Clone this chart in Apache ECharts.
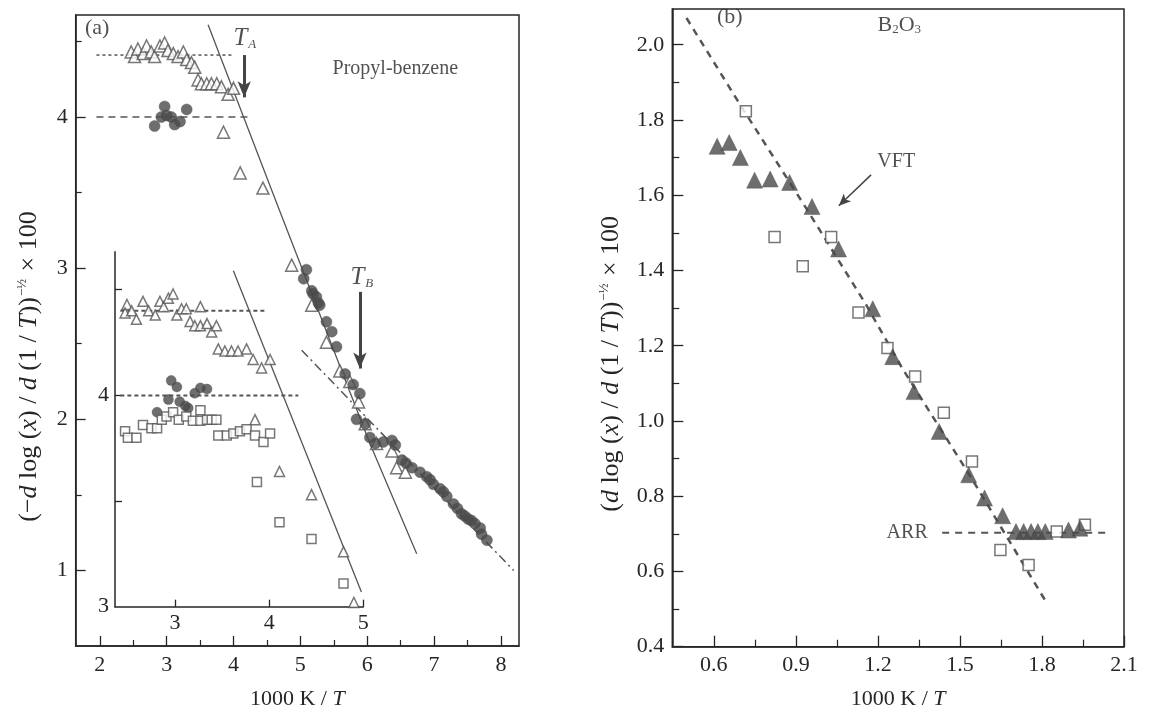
<!DOCTYPE html>
<html><head><meta charset="utf-8">
<script src="https://cdn.jsdelivr.net/npm/echarts@6/dist/echarts.min.js"></script>
<style>html,body{margin:0;padding:0;background:#fff}#c{width:1165px;height:715px}</style>
</head><body><div id="c"></div>
<script>
// ---------- Panel (a): Propyl-benzene, main plot ----------
const aTickX = [2, 3, 4, 5, 6, 7, 8];
const aMinorX = [2.5, 3.5, 4.5, 5.5, 6.5, 7.5];
const aTickY = [1, 2, 3, 4];
const aMinorY = [1.5, 2.5, 3.5, 4.5];

const aTriX = [2.47,2.52,2.57,2.65,2.70,2.77,2.82,2.90,2.97,3.02,3.10,3.17,3.25,3.30,3.37,3.42,3.47,3.52,3.60,3.67,3.75,3.82,3.92,4.00,3.85,4.10,4.44,4.87,5.17,5.39,5.59,5.74,5.87,5.97,6.14,6.37,6.44,6.57];
const aTriY = [4.43,4.40,4.45,4.42,4.47,4.43,4.40,4.47,4.49,4.44,4.42,4.40,4.43,4.38,4.36,4.33,4.245,4.22,4.22,4.22,4.22,4.20,4.15,4.19,3.90,3.63,3.53,3.02,2.755,2.51,2.32,2.25,2.115,1.97,1.84,1.79,1.68,1.65];

const aCircX = [2.82,2.92,2.97,3.00,3.07,3.12,3.20,3.30,5.05,5.09,5.17,5.19,5.24,5.27,5.29,5.39,5.47,5.54,5.67,5.79,5.84,5.89,5.97,6.04,6.12,6.24,6.37,6.42,6.52,6.58,6.67,6.79,6.89,6.94,6.99,7.09,7.14,7.19,7.29,7.35,7.41,7.46,7.51,7.56,7.61,7.69,7.71,7.79];
const aCircY = [3.94,4.00,4.07,4.01,4.00,3.95,3.97,4.05,2.93,2.99,2.85,2.83,2.81,2.77,2.755,2.645,2.58,2.48,2.30,2.23,2.00,2.17,1.97,1.88,1.84,1.85,1.86,1.83,1.73,1.71,1.68,1.65,1.62,1.60,1.57,1.54,1.52,1.49,1.44,1.41,1.375,1.36,1.34,1.33,1.31,1.28,1.24,1.20];

const aSteepX = [3.62, 4.69, 6.04, 6.74];
const aSteepY = [4.61, 3.38, 1.84, 1.11];
const aShallowX = [5.02, 8.19];
const aShallowY = [2.457, 1.00];
const aPlateauHiX = [1.95, 3.97];
const aPlateauHiY = [4.41, 4.41];
const aPlateauLoX = [1.95, 4.27];
const aPlateauLoY = [4.00, 4.00];

// ---------- Panel (a): inset ----------
const inTickX = [3, 4, 5];
const inTickY = [3.5, 4, 4.5];
const inLabelY = [3, 4];

const inTriX = [2.49,2.47,2.54,2.59,2.66,2.72,2.79,2.84,2.88,2.93,2.98,3.02,3.07,3.12,3.16,3.21,3.27,3.27,3.34,3.39,3.44,3.46,3.53,3.60,3.67,3.76,3.83,3.92,4.01,3.85,4.11,4.45,4.79,4.90];
const inTriY = [4.43,4.39,4.40,4.36,4.445,4.40,4.38,4.445,4.42,4.46,4.48,4.38,4.41,4.41,4.35,4.33,4.42,4.33,4.34,4.30,4.33,4.22,4.21,4.21,4.21,4.22,4.17,4.13,4.17,3.885,3.64,3.53,3.26,3.02];

const inCircX = [2.81,2.93,2.96,3.02,3.05,3.11,3.14,3.21,3.27,3.34];
const inCircY = [3.92,3.98,4.07,4.04,3.97,3.95,3.94,4.01,4.035,4.03];

const inSqX = [2.47,2.50,2.59,2.66,2.75,2.81,2.86,2.91,2.98,3.04,3.12,3.19,3.27,3.27,3.34,3.39,3.44,3.46,3.55,3.62,3.69,3.76,3.85,3.94,4.01,3.87,4.11,4.45,4.79];
const inSqY = [3.83,3.80,3.80,3.86,3.845,3.845,3.885,3.90,3.92,3.885,3.90,3.88,3.93,3.88,3.885,3.885,3.885,3.81,3.81,3.82,3.83,3.84,3.81,3.78,3.82,3.59,3.40,3.32,3.11];

const inSteepX = [3.62, 4.98];
const inSteepY = [4.59, 3.07];
const inPlateauHiX = [2.42, 3.97];
const inPlateauHiY = [4.40, 4.40];
const inPlateauLoX = [2.42, 4.31];
const inPlateauLoY = [4.00, 4.00];

// ---------- Panel (b): B2O3 ----------
const bTickX = [0.6, 0.9, 1.2, 1.5, 1.8, 2.1];
const bMinorX = [0.75, 1.05, 1.35, 1.65, 1.95];
const bTickY = [0.4, 0.6, 0.8, 1.0, 1.2, 1.4, 1.6, 1.8, 2.0];
const bMinorY = [0.5, 0.7, 0.9, 1.1, 1.3, 1.5, 1.7, 1.9];

const bTriX = [0.612,0.656,0.697,0.749,0.806,0.877,0.959,1.056,1.181,1.254,1.332,1.424,1.532,1.590,1.656,1.705,1.733,1.760,1.785,1.812,1.897,1.939];
const bTriY = [1.73,1.74,1.70,1.64,1.643,1.634,1.570,1.457,1.298,1.171,1.078,0.972,0.857,0.795,0.748,0.706,0.706,0.706,0.706,0.706,0.710,0.715];

const bSqX = [0.717,0.822,0.925,1.029,1.129,1.235,1.336,1.441,1.544,1.648,1.751,1.854,1.957];
const bSqY = [1.823,1.489,1.411,1.489,1.288,1.194,1.118,1.022,0.892,0.657,0.617,0.706,0.724];

const bVftX = [0.50, 0.70, 0.938, 1.156, 1.289, 1.532, 1.811];
const bVftY = [2.071, 1.836, 1.565, 1.310, 1.140, 0.860, 0.524];
const bArrX = [1.435, 2.042];
const bArrY = [0.703, 0.703];

// ---------- helpers ----------
const zip = (xs, ys) => xs.map((x, i) => [x, ys[i]]);
const SERIF = 'Liberation Serif';
const INK = '#262626';
const GRAY = '#4a4a4a';
const txt = { fontFamily: SERIF, fontSize: 22, color: INK };

function mainAxis(kind, grid, min, max, ticks, labels, fmt, tickLen, extra) {
  return Object.assign({
    type: 'value', gridIndex: grid, min: min, max: max,
    position: kind === 'x' ? 'bottom' : 'left',
    axisLine: { show: true, onZero: false, lineStyle: { color: INK, width: 1.5 } },
    axisTick: { show: true, inside: true, length: tickLen, customValues: ticks, lineStyle: { color: INK, width: 1.3 } },
    axisLabel: Object.assign({ show: true, customValues: labels, margin: 8, formatter: fmt }, txt),
    splitLine: { show: false }
  }, extra || {});
}
function minorAxis(kind, grid, min, max, ticks, tickLen) {
  return {
    type: 'value', gridIndex: grid, min: min, max: max,
    position: kind === 'x' ? 'bottom' : 'left',
    axisLine: { show: false, onZero: false },
    axisTick: { show: true, inside: true, length: tickLen, customValues: ticks, lineStyle: { color: INK, width: 1.2 } },
    axisLabel: { show: false },
    splitLine: { show: false }
  };
}
const nameRich = {
  i: { fontFamily: SERIF, fontSize: 22, fontStyle: 'italic', color: INK },
  sup: { fontFamily: SERIF, fontSize: 12, color: INK, verticalAlign: 'top', padding: [0, 1, 10, 1] }
};
const nameStyle = Object.assign({ rich: nameRich }, txt);
const yRich = {
  i: { fontFamily: SERIF, fontSize: 26, fontStyle: 'italic', color: INK },
  sup: { fontFamily: SERIF, fontSize: 13, color: INK, verticalAlign: 'top', padding: [0, 1, 12, 1] }
};
const yNameStyle = { fontFamily: SERIF, fontSize: 26, color: INK, rich: yRich, padding: [0, 72, 0, 0] };

const intFmt = v => String(Math.round(v));
const oneFmt = v => v.toFixed(1);

const xAxes = [
  mainAxis('x', 0, 1.64, 8.27, aTickX, aTickX, intFmt, 10,
    { name: '1000 K / {i|T}', nameLocation: 'middle', nameGap: 42, nameTextStyle: nameStyle }),
  minorAxis('x', 0, 1.64, 8.27, aMinorX, 6),
  mainAxis('x', 1, 2.363, 5, inTickX, inTickX, intFmt, 7, { axisLabel: Object.assign({ customValues: inTickX, margin: 6, formatter: intFmt }, txt) }),
  mainAxis('x', 2, 0.448, 2.1, bTickX, bTickX, oneFmt, 11,
    { name: '1000 K / {i|T}', nameLocation: 'middle', nameGap: 42, nameTextStyle: nameStyle }),
  minorAxis('x', 2, 0.448, 2.1, bMinorX, 7)
];
const yAxes = [
  mainAxis('y', 0, 0.5, 4.675, aTickY, aTickY, intFmt, 10,
    { name: '(\u2212{i|d} log ({i|x}) / {i|d} (1 / {i|T})){sup|\u2212\u00BD} \u00D7 100', nameLocation: 'middle', nameGap: 34, nameTextStyle: yNameStyle }),
  minorAxis('y', 0, 0.5, 4.675, aMinorY, 6),
  mainAxis('y', 1, 3, 4.68, inTickY, inLabelY, intFmt, 7, { axisLabel: Object.assign({ customValues: inLabelY, margin: 6, formatter: intFmt }, txt) }),
  mainAxis('y', 2, 0.4, 2.095, bTickY, bTickY, oneFmt, 11,
    { name: '({i|d} log ({i|x}) / {i|d} (1 / {i|T})){sup|\u2212\u00BD} \u00D7 100', nameLocation: 'middle', nameGap: 48, nameTextStyle: yNameStyle }),
  minorAxis('y', 2, 0.4, 2.095, bMinorY, 7)
];

function scatter(xi, yi, data, symbol, size, filled, z) {
  return {
    type: 'scatter', xAxisIndex: xi, yAxisIndex: yi, data: data, symbol: symbol, symbolSize: size,
    silent: true, z: z || 3,
    itemStyle: filled ? { color: GRAY, borderColor: GRAY, borderWidth: 0.5 } : { color: '#fff', borderColor: '#555', borderWidth: 1.5 }
  };
}
function line(xi, yi, data, type, width) {
  return {
    type: 'line', xAxisIndex: xi, yAxisIndex: yi, data: data, showSymbol: false, symbol: 'none',
    silent: true, z: 2, lineStyle: { color: '#555', width: width || 1.3, type: type || 'solid' }
  };
}
const annoRich = {
  t: { fontFamily: SERIF, fontSize: 25, fontStyle: 'italic', color: INK },
  s: { fontFamily: SERIF, fontSize: 13, fontStyle: 'italic', color: INK, verticalAlign: 'bottom', padding: [12, 0, 0, 1] },
  n: { fontFamily: SERIF, fontSize: 20, color: INK },
  b: { fontFamily: SERIF, fontSize: 22, color: INK },
  sub: { fontFamily: SERIF, fontSize: 13, color: INK, verticalAlign: 'bottom', padding: [10, 0, 0, 0] }
};
function annotations(xi, yi, items, arrows, arrowWidth, arrowSize) {
  return {
    type: 'scatter', xAxisIndex: xi, yAxisIndex: yi, symbolSize: 0, silent: true, z: 5,
    itemStyle: { color: 'rgba(0,0,0,0)' },
    label: { show: true, position: 'inside', rich: annoRich, fontFamily: SERIF, fontSize: 20, color: INK },
    data: items.map(it => ({ value: it.at, label: { formatter: it.text } })),
    markLine: {
      silent: true, symbol: ['none', 'arrow'], symbolSize: arrowSize, animation: false,
      label: { show: false },
      lineStyle: { color: '#444', width: arrowWidth, type: 'solid' },
      data: arrows.map(a => [{ coord: a[0] }, { coord: a[1] }])
    }
  };
}

const series = [
  // panel (a) main
  line(0, 0, zip(aPlateauHiX, aPlateauHiY), [3, 3], 1.5),
  line(0, 0, zip(aPlateauLoX, aPlateauLoY), [7, 5], 1.3),
  line(0, 0, zip(aSteepX, aSteepY), 'solid', 1.3),
  line(0, 0, zip(aShallowX, aShallowY), [9, 4, 2, 4], 1.5),
  scatter(0, 0, zip(aTriX, aTriY), 'triangle', 12, false),
  scatter(0, 0, zip(aCircX, aCircY), 'circle', 11, true),
  // inset
  line(2, 2, zip(inPlateauHiX, inPlateauHiY), [4, 3], 2),
  line(2, 2, zip(inPlateauLoX, inPlateauLoY), [4, 3], 2),
  line(2, 2, zip(inSteepX, inSteepY), 'solid', 1.3),
  scatter(2, 2, zip(inTriX, inTriY), 'triangle', 10, false),
  scatter(2, 2, zip(inCircX, inCircY), 'circle', 10, true),
  scatter(2, 2, zip(inSqX, inSqY), 'rect', 9, false),
  // panel (b)
  line(3, 3, zip(bVftX, bVftY), [7, 6], 2.5),
  line(3, 3, zip(bArrX, bArrY), [7, 6], 2),
  scatter(3, 3, zip(bSqX, bSqY), 'rect', 11, false),
  scatter(3, 3, zip(bTriX, bTriY), 'triangle', 16, true),
  // annotations
  annotations(0, 0, [
    { at: [1.96, 4.59], text: '{b|(a)}' },
    { at: [4.17, 4.52], text: '{t|T}{s|A}' },
    { at: [6.42, 4.32], text: '{n|Propyl-benzene}' },
    { at: [5.92, 2.94], text: '{t|T}{s|B}' }
  ], [[[4.16, 4.41], [4.16, 4.13]], [[5.89, 2.843], [5.89, 2.336]]], 3, [10, 16]),
  annotations(3, 3, [
    { at: [0.658, 2.072], text: '{b|(b)}' },
    { at: [1.278, 2.053], text: '{b|B}{sub|2}{b|O}{sub|3}' },
    { at: [1.267, 1.689], text: '{n|VFT}' },
    { at: [1.307, 0.702], text: '{n|ARR}' }
  ], [[[1.175, 1.654], [1.057, 1.572]]], 1.5, [8, 12])
];

const chart = echarts.init(document.getElementById('c'), null, { renderer: 'canvas' });
chart.setOption({
  animation: false,
  backgroundColor: '#fff',
  grid: [
    { left: 75.7, top: 15, width: 443.3, height: 631, show: true, borderColor: INK, borderWidth: 1.5, containLabel: false, outerBoundsMode: 'none' },
    { left: 115, top: 251.7, width: 248.3, height: 355, show: false, containLabel: false, outerBoundsMode: 'none' },
    { left: 672.3, top: 9, width: 451.7, height: 637.7, show: true, borderColor: INK, borderWidth: 1.5, containLabel: false, outerBoundsMode: 'none' }
  ],
  xAxis: xAxes,
  yAxis: yAxes,
  series: series
});
</script></body></html>
